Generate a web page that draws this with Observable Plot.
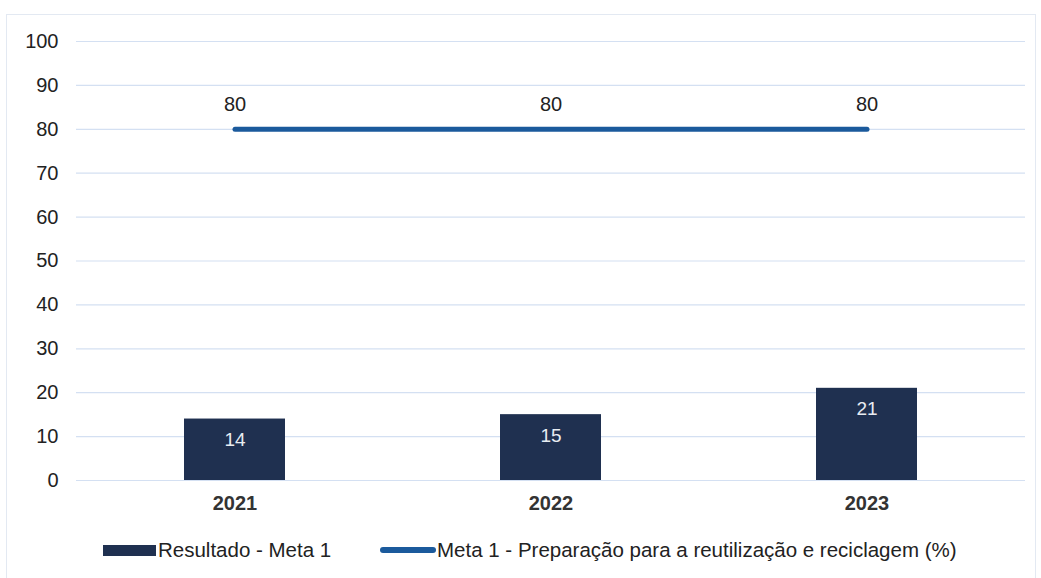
<!DOCTYPE html>
<html>
<head>
<meta charset="utf-8">
<script src="https://cdn.jsdelivr.net/npm/d3@7"></script>
<script src="https://cdn.jsdelivr.net/npm/@observablehq/plot@0.6"></script>
<style>
  html, body { margin: 0; padding: 0; background: #fff; }
  body { width: 1041px; height: 578px; position: relative; overflow: hidden; font-family: "Liberation Sans", Arial, sans-serif; }
  #frame { position: absolute; left: 6px; top: 14px; width: 1030px; height: 570px; border: 1px solid #e3e9f2; box-sizing: border-box; }
  #chart { position: absolute; left: 0; top: 0; }
  #legend { position: absolute; left: 0; top: 538px; width: 1041px; height: 24px; font-size: 20.5px; color: #222; }
  .item { position: absolute; top: 0; display: flex; align-items: center; height: 24px; }
  .sw-bar { width: 53px; height: 11px; background: #1f3050; margin-right: 2px; }
  .sw-line { width: 56px; height: 6px; border-radius: 3px; background: #1b5a9c; margin-right: 1px; }
</style>
</head>
<body>
<div id="frame"></div>
<div id="chart"></div>
<div id="legend"></div>
<script>
const years = ["2021", "2022", "2023"];
const resultado = [14, 15, 21];
const meta = [80, 80, 80];
const yTicks = [0, 10, 20, 30, 40, 50, 60, 70, 80, 90, 100];
const seriesNames = ["Resultado - Meta 1", "Meta 1 - Preparação para a reutilização e reciclagem (%)"];

const barData = years.map((y, i) => ({year: y, value: resultado[i]}));
const lineData = years.map((y, i) => ({year: y, value: meta[i]}));

const chart = Plot.plot({
  width: 1041,
  height: 525,
  marginLeft: 76,
  marginRight: 16,
  marginTop: 41,
  marginBottom: 45,
  style: {fontFamily: "'Liberation Sans', Arial, sans-serif", background: "transparent"},
  x: {domain: years, paddingInner: 0.68, paddingOuter: 0.34, label: null},
  y: {domain: [0, 100], label: null},
  marks: [
    Plot.gridY(yTicks, {stroke: "#d4e0f2", strokeOpacity: 1, strokeWidth: 1.2}),
    Plot.axisY(yTicks, {tickSize: 0, tickPadding: 18, fontSize: 20, fill: "#222", label: null}),
    Plot.axisX({tickSize: 0, tickPadding: 15, fontSize: 20, fontWeight: "bold", fill: "#333", label: null}),
    Plot.barY(barData, {x: "year", y: "value", fill: "#1f3050"}),
    Plot.text(barData, {x: "year", y: "value", text: d => String(d.value), dy: 21, fill: "#e8ecf2", fontSize: 19}),
    Plot.line(lineData, {x: "year", y: "value", stroke: "#1b5a9c", strokeWidth: 5, strokeLinecap: "round"}),
    Plot.text(lineData, {x: "year", y: "value", text: d => String(d.value), dy: -25, fill: "#222", fontSize: 20})
  ]
});
document.getElementById("chart").appendChild(chart);

const legend = document.getElementById("legend");
const lefts = [103, 380];
seriesNames.forEach((name, i) => {
  const item = document.createElement("div");
  item.className = "item";
  item.style.left = lefts[i] + "px";
  const sw = document.createElement("span");
  sw.className = i === 0 ? "sw-bar" : "sw-line";
  const t = document.createElement("span");
  t.textContent = name;
  item.appendChild(sw);
  item.appendChild(t);
  legend.appendChild(item);
});
</script>
</body>
</html>
